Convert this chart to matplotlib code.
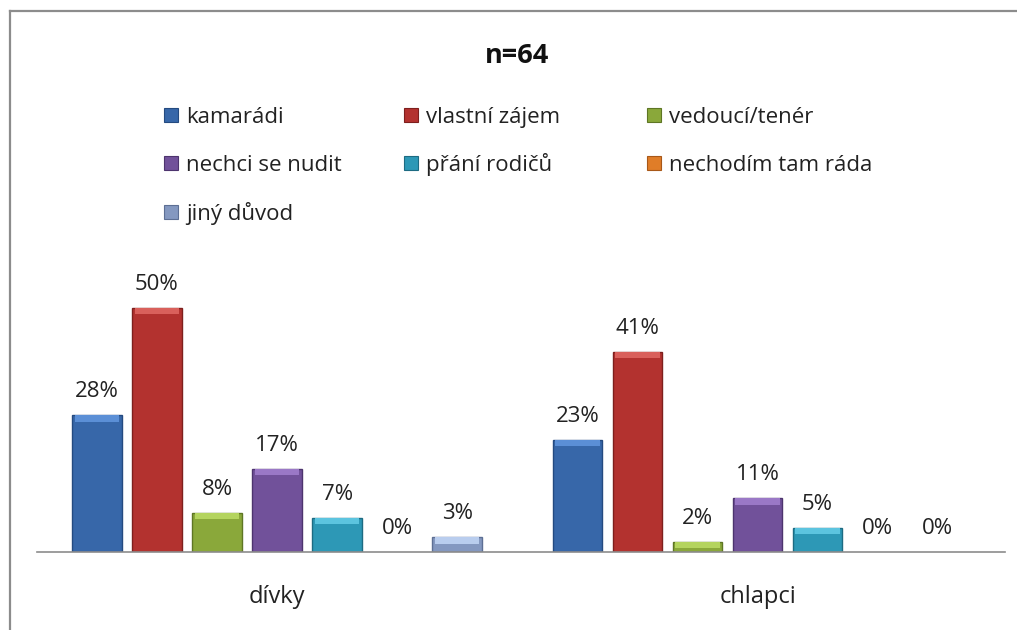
import matplotlib.pyplot as plt
from matplotlib.patches import Rectangle
from matplotlib.lines import Line2D

plt.rcParams['font.family'] = ['Open Sans', 'DejaVu Sans']

# survey data (percent of answers)
groups = ['dívky', 'chlapci']
reasons = ['kamarádi', 'vlastní zájem', 'vedoucí/tenér', 'nechci se nudit',
           'přání rodičů', 'nechodím tam ráda', 'jiný důvod']
divky = [28, 50, 8, 17, 7, 0, 3]
chlapci = [23, 41, 2, 11, 5, 0, 0]
title = 'n=64'

colors = ['#3767a9', '#b3322f', '#8aa83a', '#71519a', '#2d98b6', '#e07d28', '#8498c0']
highlights = ['#5b8fd6', '#d9605b', '#b4d45e', '#9a78c6', '#5cc4df', '#f5a65a', '#b9cdee']
edges = ['#244a80', '#7e1f1d', '#5e7624', '#4d346e', '#1d6b82', '#a85818', '#5d6f94']

fig = plt.figure(figsize=(10.17, 6.3), dpi=100)
ax = fig.add_axes([0.0364, 0.1238, 0.9518, 0.4648])

step = 0.125
width = 0.103
cap = 1.3  # height of the lighter top band, in percent units

for gi, values in enumerate([divky, chlapci]):
    for k, v in enumerate(values):
        x = gi + (k - 3) * step
        if v > 0:
            ax.bar(x, v, width=width, color=colors[k], edgecolor=edges[k], linewidth=1)
            band = min(cap, v * 0.6)
            ax.bar(x, band, bottom=v - band, width=width * 0.9,
                   color=highlights[k], linewidth=0)
        ax.annotate(f'{v}%', (x, v), xytext=(0, 13), textcoords='offset points',
                    ha='center', va='baseline', fontsize=16, color='#222222')

for gi, g in enumerate(groups):
    ax.annotate(g, (gi, 0), xytext=(0, -36.7), textcoords='offset points',
                ha='center', va='baseline', fontsize=17, color='#222222')

ax.set_xlim(-0.4995, 1.515)
ax.set_ylim(0, 60)
for s in ['top', 'left', 'right']:
    ax.spines[s].set_visible(False)
ax.spines['bottom'].set_color('#8c8c8c')
ax.spines['bottom'].set_linewidth(1.2)
ax.set_xticks([])
ax.set_yticks([])

fig.text(517 / 1017, 1 - 63 / 630, title, ha='center', va='baseline',
         fontsize=19.5, fontweight='bold', color='#111111')

# legend laid out in three columns, filled row by row
col_x = [164, 404, 647]
row_y = [115, 163, 212]
for i, name in enumerate(reasons):
    r, c = divmod(i, 3)
    px, py = col_x[c], row_y[r]
    fig.add_artist(Rectangle((px / 1017, 1 - (py + 7) / 630), 14 / 1017, 14 / 630,
                             transform=fig.transFigure, facecolor=colors[i],
                             edgecolor=edges[i], linewidth=0.8))
    fig.text((px + 22) / 1017, 1 - (py + 8) / 630, name, ha='left', va='baseline',
             fontsize=16, color='#222222')

# outer frame
fig.add_artist(Line2D([10 / 1017, 10 / 1017], [0, 1 - 11 / 630],
                      transform=fig.transFigure, color='#8c8c8c', linewidth=1.6))
fig.add_artist(Line2D([10 / 1017, 1], [1 - 11 / 630, 1 - 11 / 630],
                      transform=fig.transFigure, color='#8c8c8c', linewidth=1.6))

fig.savefig('out.png', dpi=100)
